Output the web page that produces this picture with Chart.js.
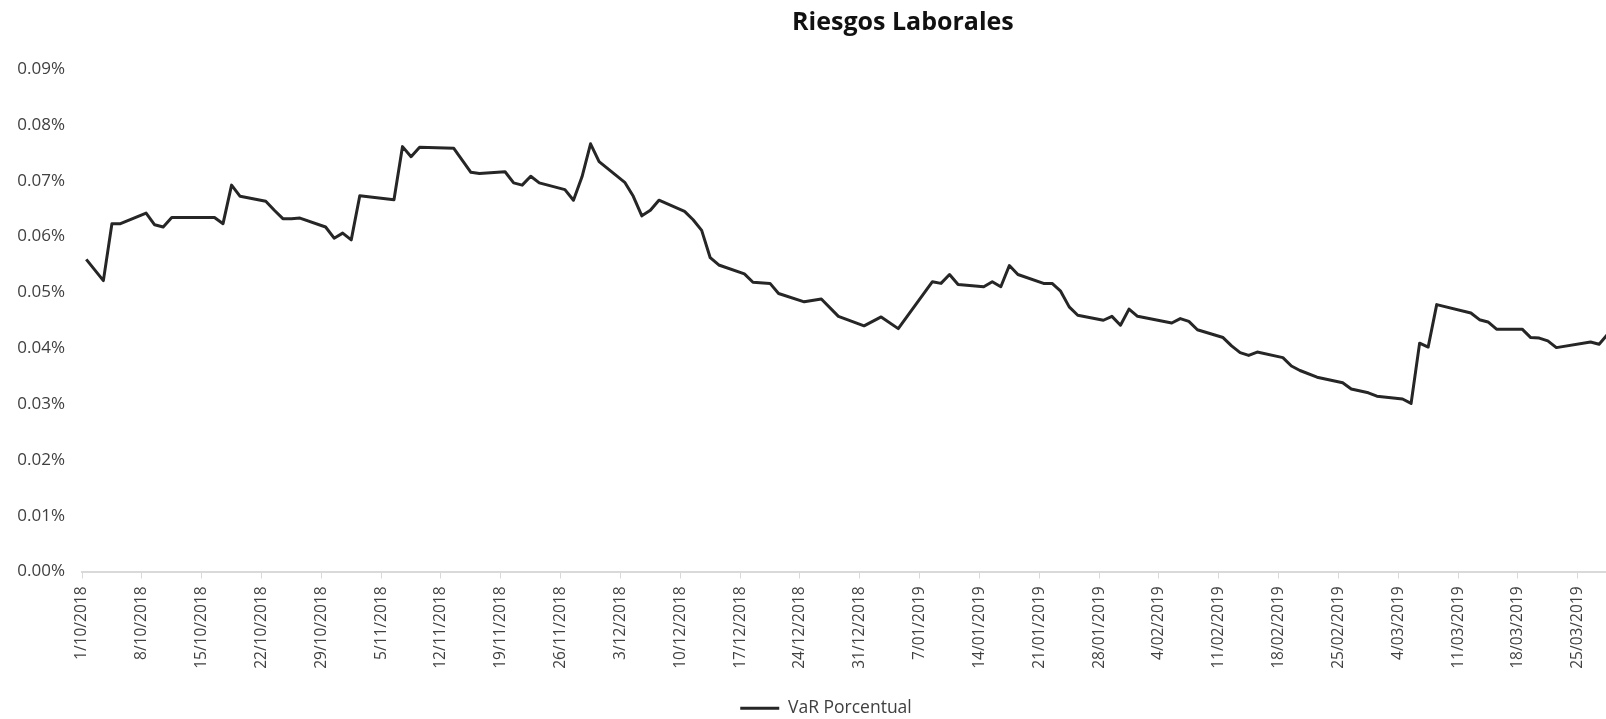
<!DOCTYPE html>
<html>
<head>
<meta charset="utf-8">
<title>Riesgos Laborales</title>
<script src="https://cdn.jsdelivr.net/npm/chart.js@4.4.1/dist/chart.umd.min.js"></script>
<style>
    html, body { margin: 0; padding: 0; background: #fff; overflow: hidden; }
    #marco { position: relative; width: 1606px; height: 719px; overflow: hidden; }
    /* la figura original esta recortada a la derecha: el lienzo es mas ancho que la ventana */
    #grafico { position: absolute; left: -72px; top: 0; }
</style>
</head>
<body>
<div id="marco"><canvas id="grafico" width="1796" height="727"></canvas></div>
<script>
// Fechas (d/mm/aaaa) y VaR porcentual (%)
const fechas = [
    '1/10/2018', '3/10/2018', '4/10/2018', '5/10/2018', '8/10/2018', '9/10/2018', '10/10/2018', '11/10/2018', '12/10/2018',
    '16/10/2018', '17/10/2018', '18/10/2018', '19/10/2018', '22/10/2018', '23/10/2018', '24/10/2018', '25/10/2018', '26/10/2018',
    '29/10/2018', '30/10/2018', '31/10/2018', '1/11/2018', '2/11/2018', '6/11/2018', '7/11/2018', '8/11/2018', '9/11/2018',
    '13/11/2018', '15/11/2018', '16/11/2018', '19/11/2018', '20/11/2018', '21/11/2018', '22/11/2018', '23/11/2018',
    '26/11/2018', '27/11/2018', '28/11/2018', '29/11/2018', '30/11/2018', '3/12/2018', '4/12/2018', '5/12/2018', '6/12/2018', '7/12/2018',
    '10/12/2018', '11/12/2018', '12/12/2018', '13/12/2018', '14/12/2018', '17/12/2018', '18/12/2018', '20/12/2018', '21/12/2018',
    '24/12/2018', '26/12/2018', '28/12/2018', '31/12/2018', '2/01/2019', '4/01/2019', '8/01/2019', '9/01/2019', '10/01/2019', '11/01/2019',
    '14/01/2019', '15/01/2019', '16/01/2019', '17/01/2019', '18/01/2019', '21/01/2019', '22/01/2019', '23/01/2019', '24/01/2019', '25/01/2019',
    '28/01/2019', '29/01/2019', '30/01/2019', '31/01/2019', '1/02/2019', '5/02/2019', '6/02/2019', '7/02/2019', '8/02/2019',
    '11/02/2019', '12/02/2019', '13/02/2019', '14/02/2019', '15/02/2019', '18/02/2019', '19/02/2019', '20/02/2019', '22/02/2019',
    '25/02/2019', '26/02/2019', '28/02/2019', '1/03/2019', '4/03/2019', '5/03/2019', '6/03/2019', '7/03/2019', '8/03/2019',
    '12/03/2019', '13/03/2019', '14/03/2019', '15/03/2019', '18/03/2019', '19/03/2019', '20/03/2019', '21/03/2019', '22/03/2019',
    '26/03/2019', '27/03/2019', '28/03/2019'
];

const varPorcentual = [
    0.0559, 0.0521, 0.0623, 0.0623, 0.0642, 0.0621, 0.0617, 0.0634, 0.0634,
    0.0634, 0.0623, 0.0692, 0.0672, 0.0663, 0.0647, 0.0632, 0.0632, 0.0633,
    0.0617, 0.0597, 0.0606, 0.0594, 0.0673, 0.0666, 0.0761, 0.0743, 0.0760,
    0.0758, 0.0715, 0.0713, 0.0716, 0.0696, 0.0692, 0.0708, 0.0696,
    0.0684, 0.0665, 0.0707, 0.0766, 0.0734, 0.0697, 0.0672, 0.0637, 0.0647, 0.0665,
    0.0645, 0.0630, 0.0611, 0.0562, 0.0549, 0.0533, 0.0518, 0.0516, 0.0498,
    0.0483, 0.0488, 0.0457, 0.0440, 0.0456, 0.0435, 0.0519, 0.0516, 0.0532, 0.0514,
    0.0510, 0.0519, 0.0510, 0.0548, 0.0532, 0.0516, 0.0516, 0.0502, 0.0474, 0.0459,
    0.0450, 0.0457, 0.0441, 0.0470, 0.0457, 0.0445, 0.0453, 0.0448, 0.0433,
    0.0419, 0.0404, 0.0392, 0.0387, 0.0393, 0.0383, 0.0368, 0.0360, 0.0348,
    0.0338, 0.0327, 0.0320, 0.0314, 0.0309, 0.0301, 0.0409, 0.0402, 0.0478,
    0.0463, 0.0451, 0.0447, 0.0434, 0.0434, 0.0419, 0.0418, 0.0413, 0.0401,
    0.0411, 0.0407, 0.0425
];

const ticksEje = [0, 0.01, 0.02, 0.03, 0.04, 0.05, 0.06, 0.07, 0.08, 0.09];

const inicio = Date.UTC(2018, 9, 1);
const diasVisibles = 192.1; // el eje sigue mas alla del recorte

function diaDe(fecha) {
    const [d, m, a] = fecha.split('/').map(Number);
    return Math.round((Date.UTC(a, m - 1, d) - inicio) / 86400000);
}

function etiquetaFecha(dia) {
    const f = new Date(inicio + dia * 86400000);
    const mes = String(f.getUTCMonth() + 1).padStart(2, '0');
    return f.getUTCDate() + '/' + mes + '/' + f.getUTCFullYear();
}

// como en Excel, cada dia se dibuja en el centro de su casilla
const puntos = fechas.map((f, i) => ({ x: diaDe(f) + 0.5, y: varPorcentual[i] }));

Chart.defaults.font.family = "'Open Sans', 'Noto Sans', sans-serif";
Chart.defaults.color = '#404040';

new Chart(document.getElementById('grafico'), {
    type: 'line',
    data: {
        datasets: [{
            label: 'VaR Porcentual',
            data: puntos,
            borderColor: '#262626',
            backgroundColor: '#262626',
            borderWidth: 3,
            borderJoinStyle: 'round',
            pointRadius: 0,
            tension: 0,
            fill: false
        }]
    },
    options: {
        responsive: false,
        animation: false,
        devicePixelRatio: 1,
        layout: { padding: 0 },
        plugins: {
            title: {
                display: true,
                text: 'Riesgos Laborales',
                fullSize: false,
                color: '#111',
                font: { size: 25, weight: 'bold' },
                padding: { top: 8, bottom: 31 }
            },
            legend: {
                position: 'bottom',
                labels: {
                    usePointStyle: true,
                    pointStyle: 'line',
                    pointStyleWidth: 39,
                    color: '#404040',
                    font: { size: 17.5 },
                    padding: 10
                }
            },
            tooltip: { enabled: false }
        },
        scales: {
            x: {
                type: 'linear',
                min: 0,
                max: diasVisibles,
                border: { display: true, color: '#d9d9d9', width: 2 },
                grid: { display: true, drawOnChartArea: false, drawTicks: true, tickLength: 7, color: '#d9d9d9' },
                ticks: {
                    stepSize: 7,
                    includeBounds: false,
                    autoSkip: false,
                    minRotation: 90,
                    maxRotation: 90,
                    padding: 8,
                    font: { size: 15.5 },
                    callback: v => etiquetaFecha(v)
                },
                afterFit: s => { s.height = 118; }
            },
            y: {
                min: 0,
                max: 0.09,
                afterBuildTicks: s => { s.ticks = ticksEje.map(v => ({ value: v })); },
                border: { display: false },
                grid: { display: false, drawTicks: false },
                ticks: {
                    padding: 17,
                    font: { size: 17 },
                    callback: v => v.toFixed(2) + '%'
                },
                afterFit: s => { s.width = 154; }
            }
        }
    }
});
</script>
</body>
</html>
